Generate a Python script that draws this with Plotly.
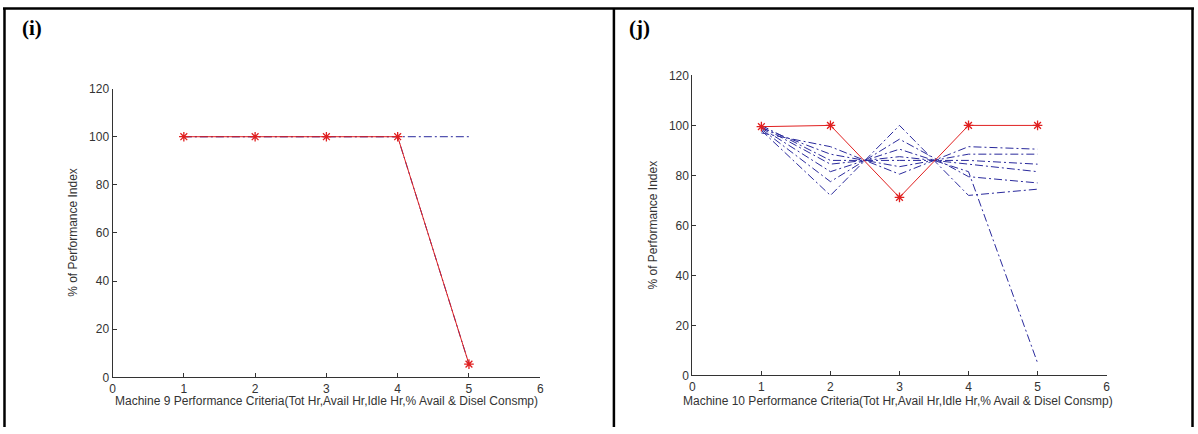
import plotly.graph_objects as go

W, H = 1198, 434

# ---------------- data ----------------
criteria = [1, 2, 3, 4, 5]

# panel (i) Machine 9
m9_red = [100, 100, 100, 100, 5.5]
m9_blue_a = [100, 100, 100, 100, 100]
m9_blue_b = [100, 100, 100, 100, 5.5]

# panel (j) Machine 10
m10_red = [99.5, 100, 71.2, 100, 100]
m10_blue_1 = [98.0, 72.0, 100.0, 72.0, 74.5]
m10_blue_2 = [98.5, 77.5, 94.5, 79.5, 77.0]
m10_blue_3 = [99.0, 81.5, 90.5, 81.5, 5.0]
m10_blue_4 = [99.5, 84.5, 87.5, 84.5, 81.5]
m10_blue_5 = [100.0, 86.0, 86.0, 86.0, 84.5]
m10_blue_6 = [99.0, 88.5, 83.5, 88.5, 88.5]
m10_blue_7 = [97.0, 91.5, 80.5, 91.5, 90.5]

x_ticks = [0, 1, 2, 3, 4, 5, 6]
y_ticks = [0, 20, 40, 60, 80, 100, 120]

xtitle_9 = "Machine 9 Performance Criteria(Tot Hr,Avail Hr,Idle Hr,% Avail & Disel Consmp)"
xtitle_10 = "Machine 10 Performance Criteria(Tot Hr,Avail Hr,Idle Hr,% Avail & Disel Consmp)"
ytitle = "% of Performance Index"

# ---------------- styles ----------------
BLUE = "#2a2a9c"
RED = "#e02020"
DASH = "8px,3px,2px,3px"
FONT = "Liberation Sans, Arial, sans-serif"


def px(x):
    return x / W


def py(y):
    return 1 - y / H


fig = go.Figure()


def add_blue(vals, xa, ya):
    fig.add_trace(go.Scatter(x=criteria, y=vals, mode="lines",
                             line=dict(color=BLUE, width=1, dash=DASH),
                             xaxis=xa, yaxis=ya, showlegend=False, hoverinfo="skip"))


def add_red(vals, xa, ya):
    fig.add_trace(go.Scatter(x=criteria, y=vals, mode="lines+markers",
                             line=dict(color=RED, width=1),
                             marker=dict(symbol="asterisk-open", size=8,
                                         line=dict(color=RED, width=1.3)),
                             xaxis=xa, yaxis=ya, showlegend=False, hoverinfo="skip"))


for v in [m9_blue_a, m9_blue_b]:
    add_blue(v, "x", "y")
add_red(m9_red, "x", "y")

for v in [m10_blue_1, m10_blue_2, m10_blue_3, m10_blue_4, m10_blue_5, m10_blue_6, m10_blue_7]:
    add_blue(v, "x2", "y2")
add_red(m10_red, "x2", "y2")

axis_common = dict(
    showgrid=False, zeroline=False, showline=True,
    linecolor="#333333", linewidth=1, ticks="inside", ticklen=4,
    tickcolor="#333333", tickfont=dict(family=FONT, size=12, color="#333333"),
    fixedrange=True,
)

# pixel geometry of axes
L = dict(x0=110.2, x1=540.4, y0=382.7, y1=84.3)
R = dict(x0=693.4, x1=1110.1, y0=380.7, y1=70.7)

fig.update_layout(
    width=W, height=H,
    margin=dict(l=0, r=0, t=0, b=0),
    paper_bgcolor="white", plot_bgcolor="white",
    xaxis=dict(axis_common, domain=[px(L["x0"]), px(L["x1"])], range=[0, 6],
               tickvals=x_ticks, anchor="y"),
    yaxis=dict(axis_common, domain=[py(L["y0"]), py(L["y1"])], range=[0, 120],
               tickvals=y_ticks, anchor="x"),
    xaxis2=dict(axis_common, domain=[px(R["x0"]), px(R["x1"])], range=[0, 6],
                tickvals=x_ticks, anchor="y2"),
    yaxis2=dict(axis_common, domain=[py(R["y0"]), py(R["y1"])], range=[0, 120],
                tickvals=y_ticks, anchor="x2"),
)

tfont = dict(family=FONT, size=12, color="#333333")
ann = [
    dict(text=xtitle_9, x=px(325), y=py(407), xanchor="center", yanchor="middle", font=tfont),
    dict(text=xtitle_10, x=px(900), y=py(407), xanchor="center", yanchor="middle", font=tfont),
    dict(text=ytitle, x=px(70.8), y=py(233), xanchor="center", yanchor="middle",
         textangle=-90, font=tfont),
    dict(text=ytitle, x=px(653.6), y=py(225), xanchor="center", yanchor="middle",
         textangle=-90, font=tfont),
    dict(text="<b>(i)</b>", x=px(17), y=py(22), xanchor="left", yanchor="middle",
         font=dict(family="Liberation Serif, Times New Roman, serif", size=21, color="black")),
    dict(text="<b>(j)</b>", x=px(628), y=py(22), xanchor="left", yanchor="middle",
         font=dict(family="Liberation Serif, Times New Roman, serif", size=21, color="black")),
]
for a in ann:
    a.update(xref="paper", yref="paper", showarrow=False)
fig.update_layout(annotations=ann)

# frame lines
shapes = [
    dict(x0=0, x1=1, y0=py(1.5), y1=py(1.5)),            # top
    dict(x0=px(1.5), x1=px(1.5), y0=0, y1=py(1.5)),      # left
    dict(x0=px(614.5), x1=px(614.5), y0=0, y1=py(1.5)),  # divider
    dict(x0=px(1196.5), x1=px(1196.5), y0=0, y1=py(1.5)),  # right
]
for s in shapes:
    s.update(type="line", xref="paper", yref="paper", line=dict(color="black", width=2.5))
fig.update_layout(shapes=shapes)

fig.write_html(
    "out.html",
    config={"displayModeBar": False},
    post_script="document.body.style.margin='0';document.body.style.overflow='hidden';"
                "document.documentElement.style.overflow='hidden';",
)
